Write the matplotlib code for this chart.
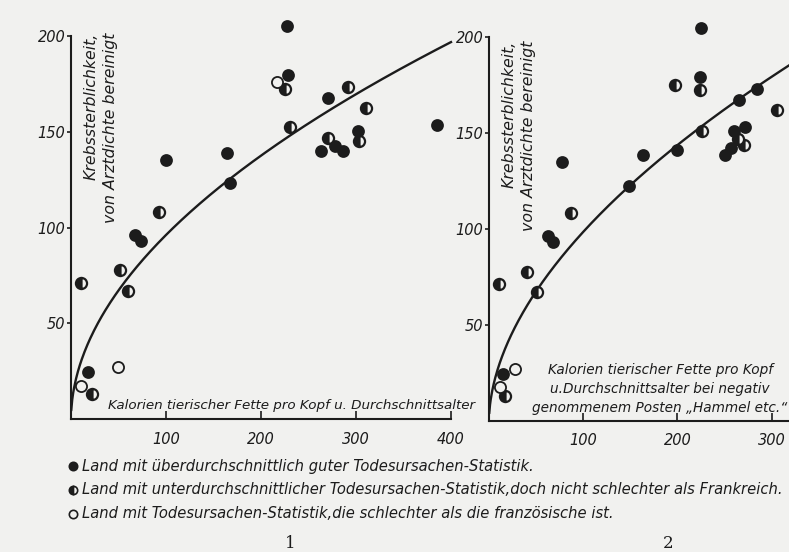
import numpy as np
import matplotlib
matplotlib.use("Agg")
import matplotlib.pyplot as plt
from matplotlib.lines import Line2D

# ---------------- data ----------------
# Panel 1
L_full_x = [227, 228, 270, 385, 302, 263, 278, 286, 164, 167, 100, 67, 74, 17.5]
L_full_y = [205, 179.5, 167.5, 153.5, 150.5, 139.7, 142.3, 140.2, 139, 123, 135, 96, 93, 24.5]
L_half_x = [225, 292, 311, 230.5, 303.5, 270, 92.5, 51.5, 59.5, 11, 22.5]
L_half_y = [172.5, 173.5, 162.5, 152.5, 145, 146.5, 108, 78, 67, 71, 13]
L_open_x = [216.5, 49, 11]
L_open_y = [176, 27, 17]
L_curve_x = [4.2, 21.8, 58.6, 125, 188, 252, 371, 400]
L_curve_y = [18.6, 43, 75, 109, 132, 155, 188, 196]

# Panel 2
R_full_x = [225, 224, 265, 284, 260.5, 272, 257, 250, 200, 163, 149, 77, 63, 68, 14.5]
R_full_y = [204.5, 179, 167, 173, 151, 153, 142.2, 138.4, 141, 138.5, 122.5, 135, 96, 93, 24.5]
R_half_x = [224, 197, 306, 226, 271, 264.5, 87, 40, 50.5, 10.5, 17.5]
R_half_y = [172, 175, 162, 151, 143.6, 146.6, 108, 77.5, 67, 71, 13]
R_open_x = [27.5, 12]
R_open_y = [27, 17.5]
R_curve_x = [15.2, 50.6, 128.5, 139, 224, 284, 318.5]
R_curve_y = [35.2, 66.5, 114.4, 120.5, 152.7, 173, 182.3]

y_ticks = [50, 100, 150, 200]
L_x_ticks = [100, 200, 300, 400]
R_x_ticks = [100, 200, 300]

y_label = "Krebssterblichkeit,\nvon Arztdichte bereinigt"
L_x_label = "Kalorien tierischer Fette pro Kopf u. Durchschnittsalter"
R_x_label = "Kalorien tierischer Fette pro Kopf\nu.Durchschnittsalter bei negativ\ngenommenem Posten \u201eHammel etc.\u201c"
legend_lines = [
    "Land mit \u00fcberdurchschnittlich guter Todesursachen-Statistik.",
    "Land mit unterdurchschnittlicher Todesursachen-Statistik,doch nicht schlechter als Frankreich.",
    "Land mit Todesursachen-Statistik,die schlechter als die franz\u00f6sische ist.",
]
panel_numbers = ["1", "2"]

# ---------------- style ----------------
BG = "#f1f1ef"
INK = "#1c1c1c"
FONT = ["DejaVu Sans"]
W, H = 789, 552

plt.rcParams["font.family"] = FONT
fig = plt.figure(figsize=(W / 100, H / 100), dpi=100, facecolor=BG)


def fx(px):
    return px / W


def fy(py):
    return 1 - py / H


def power_fit(xs, ys):
    b, lna = np.polyfit(np.log(xs), np.log(ys), 1)
    return np.exp(lna), b


def setup_axes(ax, xmax, xticks):
    ax.set_facecolor("none")
    ax.set_xlim(0, xmax)
    ax.set_ylim(0, 215)
    for s in ["top", "right"]:
        ax.spines[s].set_visible(False)
    ax.spines["left"].set_bounds(0, 200)
    ax.spines["bottom"].set_bounds(0, xmax)
    for s in ["left", "bottom"]:
        ax.spines[s].set_color(INK)
        ax.spines[s].set_linewidth(1.5)
    ax.set_xticks(xticks)
    ax.set_yticks(y_ticks)
    ax.tick_params(axis="x", direction="in", length=6, width=1.2, color=INK,
                   pad=9, labelsize=10.5, labelcolor=INK)
    ax.tick_params(axis="y", direction="out", length=3, width=1.2, color=INK,
                   pad=1, labelsize=10.5, labelcolor=INK)
    for lab in ax.get_xticklabels() + ax.get_yticklabels():
        lab.set_style("italic")


def draw_points(ax, fx_, fy_, hx, hy, ox, oy):
    ax.plot(fx_, fy_, "o", ms=8, mfc=INK, mec=INK, mew=1.2, ls="none",
            zorder=5, clip_on=False)
    ax.plot(hx, hy, "o", ms=8, fillstyle="left", mfc=INK, mfcalt=BG,
            mec=INK, mew=1.6, ls="none", zorder=5, clip_on=False)
    ax.plot(ox, oy, "o", ms=8, mfc=BG, mec=INK, mew=1.3, ls="none",
            zorder=5, clip_on=False)


# ---------------- panel 1 ----------------
ax1 = fig.add_axes([fx(71), fy(419), fx(451) - fx(71), (419 - 36) / H * 215 / 200])
setup_axes(ax1, 400, L_x_ticks)
a, b = power_fit(L_curve_x, L_curve_y)
xc = np.linspace(0.3, 400, 400)
ax1.plot(xc, a * xc ** b, color=INK, lw=1.7, zorder=3, clip_on=False)
draw_points(ax1, L_full_x, L_full_y, L_half_x, L_half_y, L_open_x, L_open_y)

# ---------------- panel 2 ----------------
R_xmax = 300 / 0.942
ax2 = fig.add_axes([fx(489), fy(420.7), 1 - fx(489), (420.7 - 36.7) / H * 215 / 200])
setup_axes(ax2, R_xmax, R_x_ticks)
a2, b2 = power_fit(R_curve_x, R_curve_y)
xc2 = np.linspace(0.3, R_xmax, 400)
ax2.plot(xc2, a2 * xc2 ** b2, color=INK, lw=1.7, zorder=3, clip_on=False)
draw_points(ax2, R_full_x, R_full_y, R_half_x, R_half_y, R_open_x, R_open_y)

# ---------------- texts ----------------
fig.text(fx(101), fy(33), y_label, rotation=90, ha="center", va="top",
         multialignment="right", fontsize=11.3, style="italic", color=INK,
         linespacing=1.35)
fig.text(fx(519), fy(41), y_label, rotation=90, ha="center", va="top",
         multialignment="right", fontsize=11.3, style="italic", color=INK,
         linespacing=1.35)
fig.text(fx(108), fy(406), L_x_label, ha="left", va="center",
         fontsize=9.7, style="italic", color=INK)
fig.text(fx(660), fy(389), R_x_label, ha="center", va="center",
         multialignment="center", fontsize=9.8, style="italic", color=INK,
         linespacing=1.45)

legend_y = [466, 490, 514]
legend_styles = [
    dict(mfc=INK, fillstyle="full"),
    dict(mfc=INK, fillstyle="left", mfcalt=BG),
    dict(mfc=BG, fillstyle="full"),
]
for txt, py, st in zip(legend_lines, legend_y, legend_styles):
    fig.add_artist(Line2D([fx(73)], [fy(py)], marker="o", ms=6, mec=INK,
                          mew=1.2, ls="none", transform=fig.transFigure, **st))
    fig.text(fx(82), fy(py), txt, ha="left", va="center", fontsize=10.6,
             style="italic", color=INK)

fig.text(fx(290), fy(543), panel_numbers[0], ha="center", va="center",
         fontsize=12, family="DejaVu Serif", color=INK)
fig.text(fx(668), fy(543), panel_numbers[1], ha="center", va="center",
         fontsize=12, family="DejaVu Serif", color=INK)

fig.savefig("out.png", dpi=100, facecolor=BG)
